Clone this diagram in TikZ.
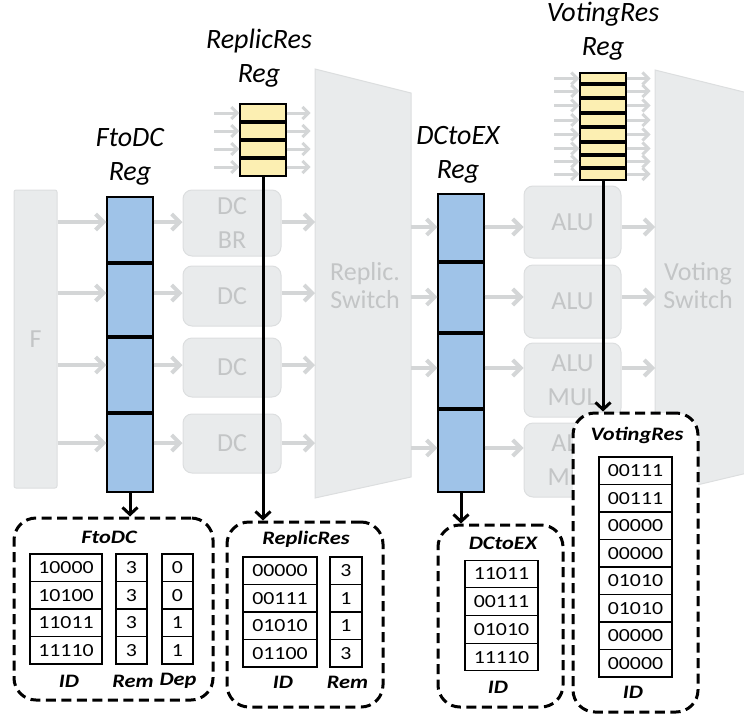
\documentclass[tikz,border=0pt]{standalone}
\usepackage{fontspec}
\setmainfont{Carlito}
\newfontfamily\tablefont[FakeStretch=1.18]{Carlito}
\usetikzlibrary{arrows.meta}

\definecolor{stagefill}{HTML}{E9EBEC}
\definecolor{stageline}{HTML}{DCDEDF}
\definecolor{stagetext}{HTML}{C3C5C6}
\definecolor{flowgray}{HTML}{D4D6D7}
\definecolor{regblue}{HTML}{9FC3E8}
\definecolor{regyellow}{HTML}{FCEFB2}

\tikzset{
	stage/.style={draw=stageline, line width=1pt, fill=stagefill, rounded corners=9pt, text=stagetext, font=\fontsize{26}{34}\selectfont, align=center, inner sep=0pt},
	switch/.style={draw=stageline, line width=1pt, fill=stagefill},
	switchtext/.style={text=stagetext, font=\fontsize{26}{28}\selectfont, align=center},
	flow/.style={draw=flowgray, line width=4pt, -{Straight Barb[length=8pt, width=16pt]}},
	feed/.style={draw=flowgray, line width=3pt, -{Straight Barb[length=6pt, width=12pt]}},
	bluereg/.style={draw, line width=1.2pt, fill=regblue, inner sep=0pt},
	yellowreg/.style={draw, line width=1.2pt, fill=regyellow, inner sep=0pt},
	slot/.style={line width=4.5pt},
	reglabel/.style={font=\itshape\fontsize{28}{34}\selectfont, align=center},
	tap/.style={line width=3pt, -{Straight Barb[length=7pt, width=15pt]}},
	memory/.style={draw, line width=3pt, dash pattern=on 10pt off 5.5pt, rounded corners=22pt, fill=white, inner sep=0pt},
	memtitle/.style={font=\tablefont\bfseries\itshape\fontsize{19}{22}\selectfont},
	cell/.style={draw, line width=1.1pt, fill=white, minimum height=27.5pt, inner sep=0pt, font=\tablefont\fontsize{18.5}{20}\selectfont},
	colname/.style={font=\tablefont\bfseries\itshape\fontsize{19}{22}\selectfont},
}

\begin{document}
\begin{tikzpicture}[x=1pt, y=-1pt]
	\clip (0,0) rectangle (744,715);

	% Lanes of the pipeline
	\coordinate (lane1) at (0,222);
	\coordinate (lane2) at (0,293);
	\coordinate (lane3) at (0,365);
	\coordinate (lane4) at (0,443);
	\coordinate (exlane1) at (0,227);
	\coordinate (exlane2) at (0,297);
	\coordinate (exlane3) at (0,368);
	\coordinate (exlane4) at (0,448);

	% Pipeline stages (grayed out)
	\node[stage, rounded corners=2pt, minimum width=43pt, minimum height=298pt] (f) at (35.5,339) {F};
	\node[stage, minimum width=98pt, minimum height=66pt] (dc1) at (232,223) {DC\\BR};
	\node[stage, minimum width=98pt, minimum height=60pt] (dc2) at (232,296) {DC};
	\node[stage, minimum width=98pt, minimum height=59pt] (dc3) at (232,367.5) {DC};
	\node[stage, minimum width=98pt, minimum height=59pt] (dc4) at (232,443.5) {DC};
	\node[stage, minimum width=97pt, minimum height=72pt] (alu1) at (572.5,222) {ALU};
	\node[stage, minimum width=97pt, minimum height=73pt] (alu2) at (572.5,301.5) {ALU};
	\node[stage, minimum width=97pt, minimum height=74pt] (alu3) at (572.5,380) {ALU\\MUL};
	\node[stage, minimum width=97pt, minimum height=74pt] (alu4) at (572.5,460) {ALU\\MUL};

	\draw[switch] (315,69) -- (411,93) -- (411,477) -- (315,498) -- cycle;
	\coordinate (rswin) at (315,283);
	\coordinate (rswout) at (411,283);
	\node[switchtext] (rswlabel) at (365,286) {Replic.\\Switch};

	\draw[switch] (655,70) -- (760,96) -- (760,470) -- (655,495) -- cycle;
	\coordinate (vswin) at (655,283);
	\node[switchtext] (vswlabel) at (698,286) {Voting\\Switch};

	% Pipeline registers
	\node[bluereg, minimum width=46pt, minimum height=295pt] (ftodc) at (130,344.5) {};
	\node[bluereg, minimum width=46pt, minimum height=298pt] (dctoex) at (461,343) {};
	\node[yellowreg, minimum width=46pt, minimum height=72pt] (rres) at (263,140) {};
	\node[yellowreg, minimum width=46pt, minimum height=107pt] (vres) at (603,126.5) {};

	\node[reglabel] (ftodclabel) at (130,157) {FtoDC\\Reg};
	\node[reglabel] (rreslabel) at (259,58.5) {ReplicRes\\Reg};
	\node[reglabel] (dctoexlabel) at (458,155) {DCtoEX\\Reg};
	\node[reglabel] (vreslabel) at (603,31.5) {VotingRes\\Reg};

	% Draw the flow between stages
	\draw[flow] (f.east |- lane1) -- (ftodc.west |- lane1);
	\draw[flow] (f.east |- lane2) -- (ftodc.west |- lane2);
	\draw[flow] (f.east |- lane3) -- (ftodc.west |- lane3);
	\draw[flow] (f.east |- lane4) -- (ftodc.west |- lane4);
	\draw[flow] (ftodc.east |- lane1) -- (dc1.west |- lane1);
	\draw[flow] (ftodc.east |- lane2) -- (dc2.west |- lane2);
	\draw[flow] (ftodc.east |- lane3) -- (dc3.west |- lane3);
	\draw[flow] (ftodc.east |- lane4) -- (dc4.west |- lane4);
	\draw[flow] (dc1.east |- lane1) -- (rswin |- lane1);
	\draw[flow] (dc2.east |- lane2) -- (rswin |- lane2);
	\draw[flow] (dc3.east |- lane3) -- (rswin |- lane3);
	\draw[flow] (dc4.east |- lane4) -- (rswin |- lane4);
	\draw[flow] (rswout |- exlane1) -- (dctoex.west |- exlane1);
	\draw[flow] (rswout |- exlane2) -- (dctoex.west |- exlane2);
	\draw[flow] (rswout |- exlane3) -- (dctoex.west |- exlane3);
	\draw[flow] (rswout |- exlane4) -- (dctoex.west |- exlane4);
	\draw[flow] (dctoex.east |- exlane1) -- (alu1.west |- exlane1);
	\draw[flow] (dctoex.east |- exlane2) -- (alu2.west |- exlane2);
	\draw[flow] (dctoex.east |- exlane3) -- (alu3.west |- exlane3);
	\draw[flow] (dctoex.east |- exlane4) -- (alu4.west |- exlane4);
	\draw[flow] (alu1.east |- exlane1) -- (vswin |- exlane1);
	\draw[flow] (alu2.east |- exlane2) -- (vswin |- exlane2);
	\draw[flow] (alu3.east |- exlane3) -- (vswin |- exlane3);

	% Feeds of the result registers
	\draw[feed] ([xshift=-25pt, yshift=27pt]rres.west) -- ([yshift=27pt]rres.west);
	\draw[feed] ([xshift=-25pt, yshift=9pt]rres.west) -- ([yshift=9pt]rres.west);
	\draw[feed] ([xshift=-25pt, yshift=-9pt]rres.west) -- ([yshift=-9pt]rres.west);
	\draw[feed] ([xshift=-25pt, yshift=-27pt]rres.west) -- ([yshift=-27pt]rres.west);
	\draw[feed] ([yshift=27pt]rres.east) -- ([xshift=24pt, yshift=27pt]rres.east);
	\draw[feed] ([yshift=9pt]rres.east) -- ([xshift=24pt, yshift=9pt]rres.east);
	\draw[feed] ([yshift=-9pt]rres.east) -- ([xshift=24pt, yshift=-9pt]rres.east);
	\draw[feed] ([yshift=-27pt]rres.east) -- ([xshift=24pt, yshift=-27pt]rres.east);

	\draw[feed] ([xshift=-25pt, yshift=48pt]vres.west) -- ([yshift=48pt]vres.west);
	\draw[feed] ([xshift=-25pt, yshift=35.5pt]vres.west) -- ([yshift=35.5pt]vres.west);
	\draw[feed] ([xshift=-25pt, yshift=21pt]vres.west) -- ([yshift=21pt]vres.west);
	\draw[feed] ([xshift=-25pt, yshift=6.5pt]vres.west) -- ([yshift=6.5pt]vres.west);
	\draw[feed] ([xshift=-25pt, yshift=-8pt]vres.west) -- ([yshift=-8pt]vres.west);
	\draw[feed] ([xshift=-25pt, yshift=-22pt]vres.west) -- ([yshift=-22pt]vres.west);
	\draw[feed] ([xshift=-25pt, yshift=-35pt]vres.west) -- ([yshift=-35pt]vres.west);
	\draw[feed] ([xshift=-25pt, yshift=-47.5pt]vres.west) -- ([yshift=-47.5pt]vres.west);
	\draw[feed] ([yshift=48pt]vres.east) -- ([xshift=24pt, yshift=48pt]vres.east);
	\draw[feed] ([yshift=35.5pt]vres.east) -- ([xshift=24pt, yshift=35.5pt]vres.east);
	\draw[feed] ([yshift=21pt]vres.east) -- ([xshift=24pt, yshift=21pt]vres.east);
	\draw[feed] ([yshift=6.5pt]vres.east) -- ([xshift=24pt, yshift=6.5pt]vres.east);
	\draw[feed] ([yshift=-8pt]vres.east) -- ([xshift=24pt, yshift=-8pt]vres.east);
	\draw[feed] ([yshift=-22pt]vres.east) -- ([xshift=24pt, yshift=-22pt]vres.east);
	\draw[feed] ([yshift=-35pt]vres.east) -- ([xshift=24pt, yshift=-35pt]vres.east);
	\draw[feed] ([yshift=-47.5pt]vres.east) -- ([xshift=24pt, yshift=-47.5pt]vres.east);

	% Slots of the registers
	\draw[slot] (107,263) -- (153,263);
	\draw[slot] (107,337) -- (153,337);
	\draw[slot] (107,413) -- (153,413);
	\draw[slot] (438,262) -- (484,262);
	\draw[slot] (438,333) -- (484,333);
	\draw[slot] (438,409) -- (484,409);
	\draw[slot, line width=3.5pt] (240,122) -- (286,122);
	\draw[slot, line width=3.5pt] (240,140) -- (286,140);
	\draw[slot, line width=3.5pt] (240,158) -- (286,158);
	\draw[slot, line width=3.2pt] (580,84) -- (626,84);
	\draw[slot, line width=3.2pt] (580,98) -- (626,98);
	\draw[slot, line width=3.2pt] (580,113) -- (626,113);
	\draw[slot, line width=3.2pt] (580,127) -- (626,127);
	\draw[slot, line width=3.2pt] (580,142) -- (626,142);
	\draw[slot, line width=3.2pt] (580,155) -- (626,155);
	\draw[slot, line width=3.2pt] (580,168) -- (626,168);

	% Contents of the registers
	\node[memory, minimum width=199pt, minimum height=182pt] (ftodcbox) at (113.5,609) {};
	\node[memory, minimum width=156pt, minimum height=185pt] (rresbox) at (305,614.5) {};
	\node[memory, minimum width=125pt, minimum height=182pt] (dctoexbox) at (500.5,616) {};
	\node[memory, minimum width=125pt, minimum height=299pt] (vresbox) at (635.5,562.5) {};

	\draw[tap] (ftodc.south) -- (ftodc.south |- ftodcbox.north);
	\draw[tap] (rres.south) -- (rres.south |- rresbox.north);
	\draw[tap] (dctoex.south) -- (dctoex.south |- dctoexbox.north);
	\draw[tap] (vres.south) -- (vres.south |- vresbox.north);

	\node[memtitle] (ftodctitle) at (109,537) {FtoDC};
	\node[cell, minimum width=72pt] (fid1) at (66,567.75) {10000};
	\node[cell, minimum width=72pt] (fid2) at (66,595.25) {10100};
	\node[cell, minimum width=72pt] (fid3) at (66,622.75) {11011};
	\node[cell, minimum width=72pt] (fid4) at (66,650.25) {11110};
	\node[cell, minimum width=31pt] (frem1) at (131.5,567.75) {3};
	\node[cell, minimum width=31pt] (frem2) at (131.5,595.25) {3};
	\node[cell, minimum width=31pt] (frem3) at (131.5,622.75) {3};
	\node[cell, minimum width=31pt] (frem4) at (131.5,650.25) {3};
	\node[cell, minimum width=31pt] (fdep1) at (177.5,567.75) {0};
	\node[cell, minimum width=31pt] (fdep2) at (177.5,595.25) {0};
	\node[cell, minimum width=31pt] (fdep3) at (177.5,622.75) {1};
	\node[cell, minimum width=31pt] (fdep4) at (177.5,650.25) {1};
	\node[colname] (fidname) at (69,681) {ID};
	\node[colname] (fremname) at (133,681) {Rem};
	\node[colname] (fdepname) at (178,681) {Dep};

	\node[memtitle] (rrestitle) at (306,539) {ReplicRes};
	\node[cell, minimum width=74pt] (rid1) at (280,570.75) {00000};
	\node[cell, minimum width=74pt] (rid2) at (280,598.25) {00111};
	\node[cell, minimum width=74pt] (rid3) at (280,625.75) {01010};
	\node[cell, minimum width=74pt] (rid4) at (280,653.25) {01100};
	\node[cell, minimum width=32pt] (rrem1) at (346,570.75) {3};
	\node[cell, minimum width=32pt] (rrem2) at (346,598.25) {1};
	\node[cell, minimum width=32pt] (rrem3) at (346,625.75) {1};
	\node[cell, minimum width=32pt] (rrem4) at (346,653.25) {3};
	\node[colname] (ridname) at (283,682) {ID};
	\node[colname] (rremname) at (347.5,682) {Rem};

	\node[memtitle] (dctoextitle) at (503,543) {DCtoEX};
	\node[cell, minimum width=73pt] (eid1) at (501.5,573.9) {11011};
	\node[cell, minimum width=73pt] (eid2) at (501.5,601.6) {00111};
	\node[cell, minimum width=73pt] (eid3) at (501.5,629.4) {01010};
	\node[cell, minimum width=73pt] (eid4) at (501.5,657.1) {11110};
	\node[colname] (eidname) at (498,687) {ID};

	\node[memtitle] (vrestitle) at (637,435) {VotingRes};
	\node[cell, minimum width=73pt] (vid1) at (635.5,470.75) {00111};
	\node[cell, minimum width=73pt] (vid2) at (635.5,498.25) {00111};
	\node[cell, minimum width=73pt] (vid3) at (635.5,525.75) {00000};
	\node[cell, minimum width=73pt] (vid4) at (635.5,553.25) {00000};
	\node[cell, minimum width=73pt] (vid5) at (635.5,580.75) {01010};
	\node[cell, minimum width=73pt] (vid6) at (635.5,608.25) {01010};
	\node[cell, minimum width=73pt] (vid7) at (635.5,635.75) {00000};
	\node[cell, minimum width=73pt] (vid8) at (635.5,663.25) {00000};
	\node[colname] (vidname) at (633,692) {ID};
\end{tikzpicture}
\end{document}
